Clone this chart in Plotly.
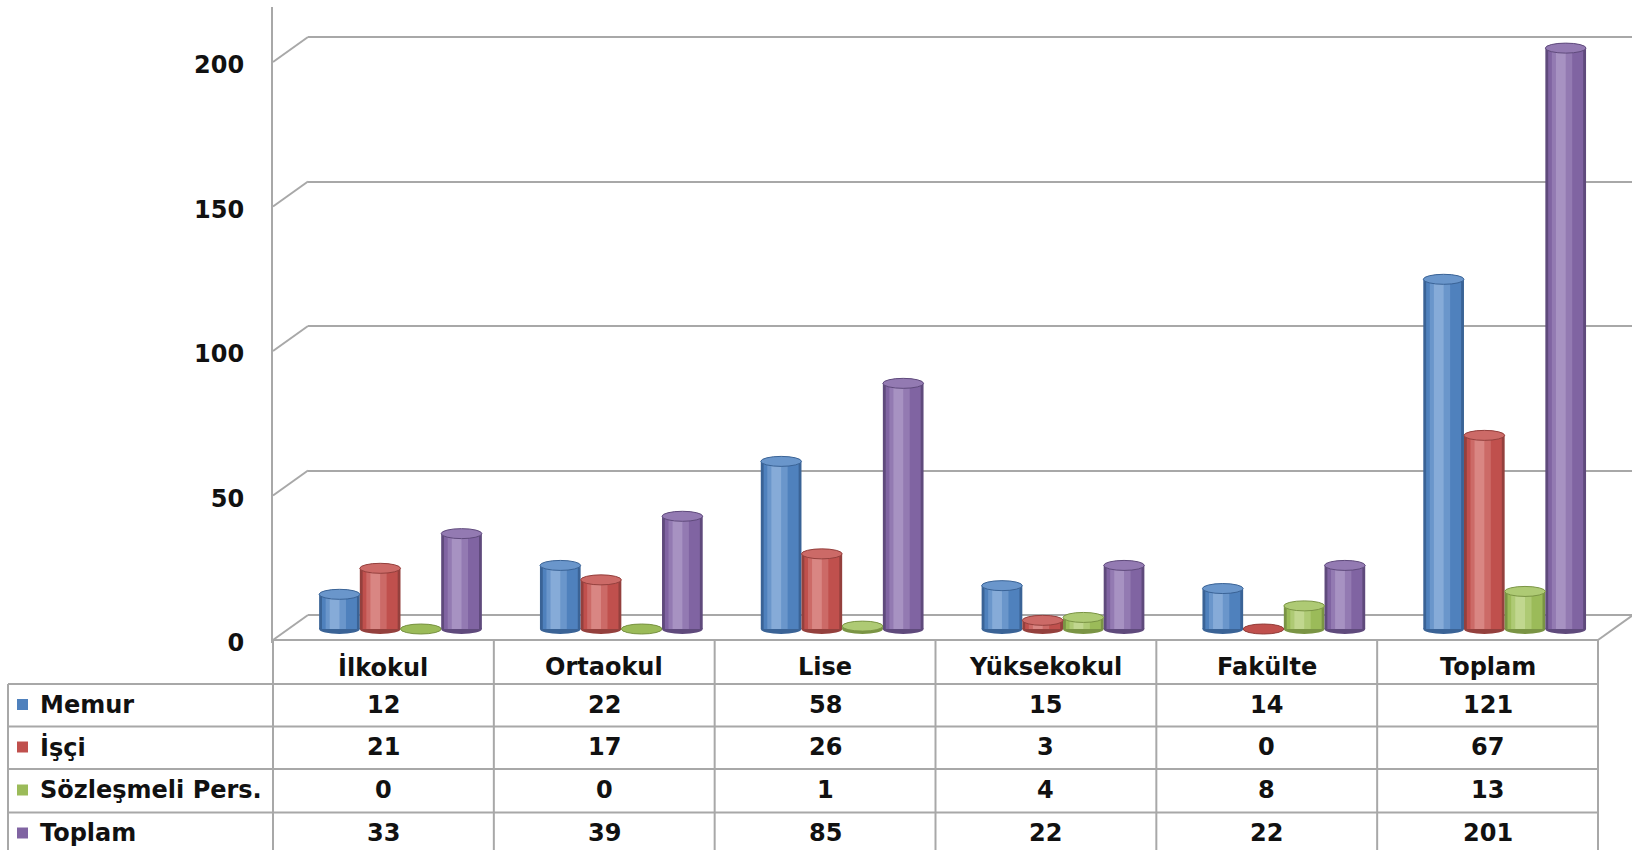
import plotly.graph_objects as go

# ---------------- data ----------------
categories = ["İlkokul", "Ortaokul", "Lise", "Yüksekokul", "Fakülte", "Toplam"]
series_names = ["Memur", "İşçi", "Sözleşmeli Pers.", "Toplam"]
memur = [12, 22, 58, 15, 14, 121]
isci = [21, 17, 26, 3, 0, 67]
sozlesmeli = [0, 0, 1, 4, 8, 13]
toplam = [33, 39, 85, 22, 22, 201]
y_ticks = [0, 50, 100, 150, 200]

series_values = [memur, isci, sozlesmeli, toplam]
# (dark edge, base, mid-light, highlight)
palette = [
    ("#3A6396", "#4F81BD", "#6A96CB", "#86ABD8"),
    ("#94403D", "#C0504D", "#CC6A67", "#D98683"),
    ("#7A9444", "#9BBB59", "#AECA74", "#C1D78F"),
    ("#5F4A7C", "#8064A2", "#937AB2", "#A792C2"),
]

# ---------------- layout constants (pixels) ----------------
W, H = 1632, 850
S = 2.89            # pixels per unit
BACK0 = 615         # y of value 0 on back wall
FRONT0 = 640        # y of value 0 on front edge
LABEL0 = 643        # y of the "0" tick label centre line
BAR0 = 629          # y of bar bases
AX_X = 273
BACK_X = 308
TAB_L = 8
TAB_R = 1598
COL_W = (TAB_R - AX_X) / 6
ROW_LINES = [684, 726.5, 769, 812.5]
ROW_CENTERS = [704.5, 747, 790, 833]
HEADER_Y = 667
GRID_C = "#A8A8A8"
FONT = dict(family="DejaVu Sans", size=24, color="#111111", weight="bold")

BAR_L = 400.5 - COL_W / 2
BAR_R = BAR_L + 6 * COL_W
GROUP = 0.737
BW = GROUP / 4
ELL = 10 / S


def px(x):
    return x / W


def py(y):
    return 1 - y / H


fig = go.Figure()

# back-wall grid subplot (drawn first so it sits behind the bars)
fig.add_trace(go.Scatter(x=[], y=[], xaxis="x", yaxis="y", showlegend=False, hoverinfo="skip"))

shapes = []
layers = [(0.0, 1.0, 0), (0.07, 0.86, 1), (0.16, 0.5, 2), (0.26, 0.24, 3)]
for s, (name, vals) in enumerate(zip(series_names, series_values)):
    off = -GROUP / 2 + s * BW
    cols = palette[s]
    for fo, fw, ci in layers:
        fig.add_trace(go.Bar(
            x=categories, y=vals, xaxis="x2", yaxis="y2",
            offset=off + fo * BW, width=fw * BW, name=name,
            marker=dict(color=cols[ci], line=dict(width=0)),
            showlegend=False,
        ))
    for i, v in enumerate(vals):
        shapes.append(dict(type="circle", xref="x2", yref="y2", layer="below",
                           x0=i + off, x1=i + off + BW, y0=-ELL / 2, y1=ELL / 2,
                           fillcolor=cols[0], line=dict(width=0)))
        shapes.append(dict(type="circle", xref="x2", yref="y2", layer="above",
                           x0=i + off, x1=i + off + BW, y0=v - ELL / 2, y1=v + ELL / 2,
                           fillcolor=cols[2] if v > 0 else cols[1],
                           line=dict(width=1, color=cols[0])))

# front axis subplot (tick labels + vertical axis line)
fig.add_trace(go.Scatter(x=[], y=[], xaxis="x3", yaxis="y3", showlegend=False, hoverinfo="skip"))

# diagonals linking front axis to back-wall gridlines
for v in y_ticks:
    shapes.append(dict(type="line", xref="paper", yref="paper",
                       x0=px(AX_X), y0=py(FRONT0 - S * v), x1=px(BACK_X), y1=py(BACK0 - S * v),
                       line=dict(color=GRID_C, width=2), layer="below"))
# floor right edge
shapes.append(dict(type="line", xref="paper", yref="paper",
                   x0=px(TAB_R), y0=py(FRONT0), x1=px(TAB_R + (BACK_X - AX_X)), y1=py(BACK0),
                   line=dict(color=GRID_C, width=2)))

# data table grid
shapes.append(dict(type="line", xref="paper", yref="paper", x0=px(AX_X), x1=px(TAB_R),
                   y0=py(FRONT0), y1=py(FRONT0), line=dict(color=GRID_C, width=2)))
for yl in ROW_LINES:
    shapes.append(dict(type="line", xref="paper", yref="paper", x0=px(TAB_L), x1=px(TAB_R),
                       y0=py(yl), y1=py(yl), line=dict(color=GRID_C, width=2)))
for k in range(7):
    xl = AX_X + k * COL_W
    shapes.append(dict(type="line", xref="paper", yref="paper", x0=px(xl), x1=px(xl),
                       y0=py(FRONT0), y1=0, line=dict(color=GRID_C, width=2)))
shapes.append(dict(type="line", xref="paper", yref="paper", x0=px(TAB_L), x1=px(TAB_L),
                   y0=py(ROW_LINES[0]), y1=0, line=dict(color=GRID_C, width=2)))

annotations = []
for i, c in enumerate(categories):
    annotations.append(dict(xref="paper", yref="paper", x=px(AX_X + (i + 0.5) * COL_W), y=py(HEADER_Y),
                            text=c, showarrow=False, font=FONT, xanchor="center", yanchor="middle"))
for r, (name, vals) in enumerate(zip(series_names, series_values)):
    yc = ROW_CENTERS[r]
    shapes.append(dict(type="rect", xref="paper", yref="paper", x0=px(17), x1=px(28),
                       y0=py(yc + 5.5), y1=py(yc - 5.5), fillcolor=palette[r][1], line=dict(width=0)))
    annotations.append(dict(xref="paper", yref="paper", x=px(38), y=py(yc), text=name,
                            showarrow=False, font=FONT, xanchor="left", yanchor="middle"))
    for i, v in enumerate(vals):
        annotations.append(dict(xref="paper", yref="paper", x=px(AX_X + (i + 0.5) * COL_W), y=py(yc),
                                text=str(v), showarrow=False, font=FONT,
                                xanchor="center", yanchor="middle"))

fig.update_layout(
    template="none",
    width=W, height=H, autosize=False,
    margin=dict(l=0, r=0, t=0, b=0, pad=0, autoexpand=False),
    paper_bgcolor="white", plot_bgcolor="rgba(0,0,0,0)",
    barmode="overlay", showlegend=False,
    shapes=shapes, annotations=annotations,
    xaxis=dict(domain=[px(BACK_X), 1], range=[0, 1], visible=False, fixedrange=True,
               automargin=False),
    yaxis=dict(domain=[py(BACK0), 1], range=[0, BACK0 / S], showgrid=True, gridcolor=GRID_C,
               gridwidth=2, tick0=0, dtick=50, zeroline=True, zerolinecolor=GRID_C,
               zerolinewidth=2, showticklabels=False, ticks="", showline=False, fixedrange=True,
               automargin=False),
    xaxis2=dict(domain=[px(BAR_L), px(BAR_R)], range=[-0.5, 5.5], type="category",
                categoryorder="array", categoryarray=categories, visible=False, anchor="y2",
                fixedrange=True, automargin=False),
    yaxis2=dict(domain=[py(BAR0 + 6 * S), 1], range=[-6, BAR0 / S], visible=False, anchor="x2",
                fixedrange=True, automargin=False),
    xaxis3=dict(domain=[px(AX_X), px(TAB_R)], range=[0, 1], visible=False, anchor="y3",
                fixedrange=True, automargin=False),
    yaxis3=dict(domain=[py(LABEL0), py(7)], range=[0, (LABEL0 - 7) / S], anchor="x3",
                tickmode="array", tickvals=y_ticks, ticktext=[str(t) for t in y_ticks],
                showgrid=False, zeroline=False, showline=True, linecolor=GRID_C, linewidth=2,
                ticks="outside", ticklen=22, tickcolor="rgba(0,0,0,0)", tickfont=FONT,
                fixedrange=True, automargin=False),
)

post = (
    "document.documentElement.style.margin='0';document.body.style.margin='0';"
    "document.documentElement.style.overflow='hidden';document.body.style.overflow='hidden';"
)

fig.write_html(
    "out.html",
    config={"displayModeBar": False, "responsive": False},
    post_script=post,
)
